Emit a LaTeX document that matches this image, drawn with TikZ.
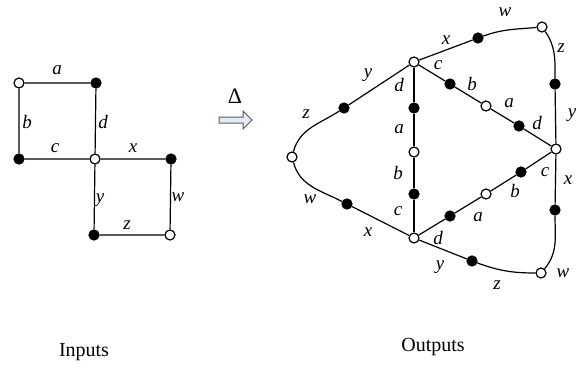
\documentclass[tikz,border=0pt]{standalone}
\usepackage{fontspec}
\setmainfont{Liberation Serif}
\usetikzlibrary{positioning}
\definecolor{arrowfill}{RGB}{226,235,248}
\definecolor{arrowline}{RGB}{90,90,90}
\tikzset{
  whitedot/.style={circle, draw, fill=white, minimum size=5pt, inner sep=0pt, line width=0.6pt},
  blackdot/.style={circle, draw, fill=black, minimum size=5pt, inner sep=0pt, line width=0.6pt},
  lab/.style={font=\fontsize{9.5}{11}\selectfont\itshape, inner sep=0pt},
  caption/.style={font=\fontsize{10}{12}\selectfont, inner sep=0pt},
  link/.style={line width=0.6pt}
}

\begin{document}
\begin{tikzpicture}[x=0.5pt, y=-0.5pt]
  \useasboundingbox (0,0) rectangle (576,369);

  % input graph
  \node[whitedot] (ia) at (19,83) {};
  \node[blackdot] (ib) at (96,83) {};
  \node[blackdot] (ic) at (19,159) {};
  \node[whitedot] (io) at (95,159) {};
  \node[blackdot] (id) at (171,159) {};
  \node[blackdot] (ie) at (94,235) {};
  \node[whitedot] (if) at (170,235) {};
  \draw[link] (ia) -- (ib) (ia) -- (ic) (ib) -- (io) (ic) -- (io)
              (io) -- (id) (io) -- (ie) (id) -- (if) (ie) -- (if);
  \node[lab] (la) at (57,70) {a};
  \node[lab] (lb) at (27,122) {b};
  \node[lab] (ld) at (103,122) {d};
  \node[lab] (lc) at (55,148) {c};
  \node[lab] (lx) at (133,148) {x};
  \node[lab] (ly) at (100,200) {y};
  \node[lab] (lw) at (178,197) {w};
  \node[lab] (lz) at (127,225) {z};

  % operator
  \node[font=\fontsize{11}{13}\selectfont, inner sep=0pt] (delta) at (235,96) {Δ};
  \draw[arrowline, fill=arrowfill, line width=0.5pt]
    (219,117) -- (243,117) -- (243,111) -- (252,120) -- (243,129) -- (243,123) -- (219,123) -- cycle;

  % output graph
  \node[whitedot] (T) at (414,62) {};
  \node[whitedot] (R) at (556,149) {};
  \node[whitedot] (B) at (414,238) {};
  \node[whitedot] (L) at (292,157) {};
  \node[whitedot] (TR) at (542,27) {};
  \node[whitedot] (BR) at (541,273) {};
  \node[blackdot] (tb1) at (414,108) {};
  \node[whitedot] (tb2) at (414,152) {};
  \node[blackdot] (tb3) at (414,194) {};
  \node[blackdot] (tr1) at (450,84) {};
  \node[whitedot] (tr2) at (486,106) {};
  \node[blackdot] (tr3) at (519,126) {};
  \node[blackdot] (br1) at (450,216) {};
  \node[whitedot] (br2) at (486,194) {};
  \node[blackdot] (br3) at (521,172) {};
  \node[blackdot] (tl) at (344,108) {};
  \node[blackdot] (lb) at (347,204) {};
  \node[blackdot] (ttr) at (478,38) {};
  \node[blackdot] (trr) at (555,84) {};
  \node[blackdot] (rbr) at (555,210) {};
  \node[blackdot] (bbr) at (472,261) {};

  \draw[link] (T) -- (tb1) -- (tb2) -- (tb3) -- (B);
  \draw[link] (T) -- (tr1) -- (tr2) -- (tr3) -- (R);
  \draw[link] (B) -- (br1) -- (br2) -- (br3) -- (R);
  \draw[link] (T) -- (tl) to[out=213, in=75] (L);
  \draw[link] (L) to[out=-75, in=153] (lb) -- (B);
  \draw[link] (T) -- (ttr) to[out=20, in=185] (TR);
  \draw[link] (TR) to[out=-55, in=90] (trr) -- (R);
  \draw[link] (R) -- (rbr) to[out=-90, in=50] (BR);
  \draw[link] (B) -- (bbr) to[out=-20, in=180] (BR);

  \node[lab] (ox1) at (446,40) {x};
  \node[lab] (ow1) at (505,12) {w};
  \node[lab] (oz1) at (561,48) {z};
  \node[lab] (oy1) at (572,115) {y};
  \node[lab] (oy2) at (368,75) {y};
  \node[lab] (oz2) at (306,114) {z};
  \node[lab] (od1) at (399,85) {d};
  \node[lab] (oa1) at (399,129) {a};
  \node[lab] (ob1) at (398,173) {b};
  \node[lab] (oc1) at (398,211) {c};
  \node[lab] (oc2) at (438,65) {c};
  \node[lab] (ob2) at (472,84) {b};
  \node[lab] (oa2) at (509,103) {a};
  \node[lab] (od2) at (537,123) {d};
  \node[lab] (oc3) at (545,172) {c};
  \node[lab] (ob3) at (515,191) {b};
  \node[lab] (oa3) at (478,217) {a};
  \node[lab] (od3) at (438,238) {d};
  \node[lab] (ox2) at (568,180) {x};
  \node[lab] (ow2) at (563,273) {w};
  \node[lab] (oy3) at (440,267) {y};
  \node[lab] (oz3) at (497,285) {z};
  \node[lab] (ow3) at (310,199) {w};
  \node[lab] (ox3) at (368,232) {x};

  \node[caption] (inputs) at (84,352) {Inputs};
  \node[caption] (outputs) at (433,347) {Outputs};
\end{tikzpicture}
\end{document}
